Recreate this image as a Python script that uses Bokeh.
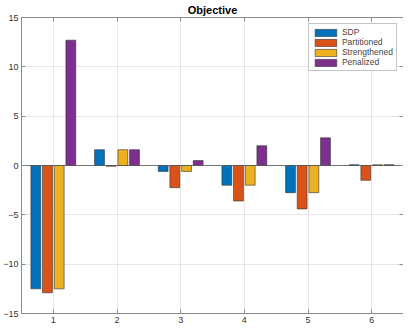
from bokeh.plotting import figure
from bokeh.models import ColumnDataSource, LinearAxis, FixedTicker, Legend, LegendItem
from bokeh.transform import dodge
from bokeh.embed import file_html
from bokeh.resources import INLINE

groups = [1, 2, 3, 4, 5, 6]
sdp = [-12.5, 1.6, -0.6, -2.0, -2.75, 0.08]
partitioned = [-12.9, -0.08, -2.25, -3.6, -4.4, -1.5]
strengthened = [-12.5, 1.6, -0.6, -2.0, -2.75, 0.08]
penalized = [12.7, 1.6, 0.5, 2.0, 2.8, 0.08]
series_names = ["SDP", "Partitioned", "Strengthened", "Penalized"]
colors = ["#0072BD", "#D95319", "#EDB120", "#7E2F8E"]
y_ticks = [-15, -10, -5, 0, 5, 10, 15]

src = ColumnDataSource(dict(x=groups, SDP=sdp, Partitioned=partitioned,
                            Strengthened=strengthened, Penalized=penalized))

p = figure(width=403, height=325, x_range=(0.5, 6.5), y_range=(-15, 15),
           output_backend="svg", toolbar_location=None, title="Objective",
           min_border_left=0, min_border_right=0, min_border_top=0, min_border_bottom=0)

p.title.align = "center"
p.title.text_font = "Liberation Sans"
p.title.text_font_size = "11px"
p.title.text_font_style = "bold"
p.title.text_color = "#000000"
p.title.standoff = 3

offsets = [-0.275, -0.092, 0.092, 0.275]
renderers = []
for name, c, off in zip(series_names, colors, offsets):
    r = p.vbar(x=dodge("x", off, range=p.x_range), top=name, bottom=0, width=0.155,
               source=src, fill_color=c, line_color="#333333", line_width=0.6)
    renderers.append(r)

# zero baseline
p.line(x=[0.5, 6.5], y=[0, 0], line_color="#555555", line_width=0.8)

for ax in (p.xaxis[0], p.yaxis[0]):
    ax.major_tick_in = 4
    ax.major_tick_out = 0
    ax.minor_tick_line_color = None
    ax.axis_line_color = "#8a8a8a"
    ax.major_tick_line_color = "#8a8a8a"
    ax.major_label_text_font = "Liberation Sans"
    ax.major_label_text_font_size = "9px"
    ax.major_label_text_color = "#333333"
    ax.major_label_standoff = 3

p.xaxis.ticker = FixedTicker(ticks=groups)
p.yaxis.ticker = FixedTicker(ticks=y_ticks)

right = LinearAxis(ticker=FixedTicker(ticks=y_ticks),
                   major_label_overrides={t: "" for t in y_ticks},
                   major_tick_in=4, major_tick_out=0, minor_tick_line_color=None,
                   axis_line_color="#8a8a8a", major_tick_line_color="#8a8a8a",
                   major_label_standoff=0)
top = LinearAxis(ticker=FixedTicker(ticks=groups),
                 major_label_overrides={t: "" for t in groups},
                 major_tick_in=4, major_tick_out=0, minor_tick_line_color=None,
                 axis_line_color="#8a8a8a", major_tick_line_color="#8a8a8a",
                 major_label_standoff=0)
p.add_layout(right, "right")
p.add_layout(top, "above")

p.xgrid.ticker = FixedTicker(ticks=groups)
p.ygrid.ticker = FixedTicker(ticks=y_ticks)
p.grid.grid_line_color = "#e6e6e6"
p.grid.grid_line_width = 1
p.outline_line_color = None

legend = Legend(items=[LegendItem(label=n, renderers=[r]) for n, r in zip(series_names, renderers)],
                location="top_right")
legend.label_text_font = "Liberation Sans"
legend.label_text_font_size = "8.5px"
legend.label_height = 10
legend.glyph_height = 9
legend.glyph_width = 27
legend.spacing = 0
legend.padding = 3
legend.margin = 6
legend.label_standoff = 3
legend.border_line_color = "#8a8a8a"
legend.border_line_width = 1
legend.background_fill_alpha = 1
p.add_layout(legend, "center")

p.background_fill_color = "white"
p.border_fill_color = "white"

open("out.html", "w").write(file_html(p, INLINE))
